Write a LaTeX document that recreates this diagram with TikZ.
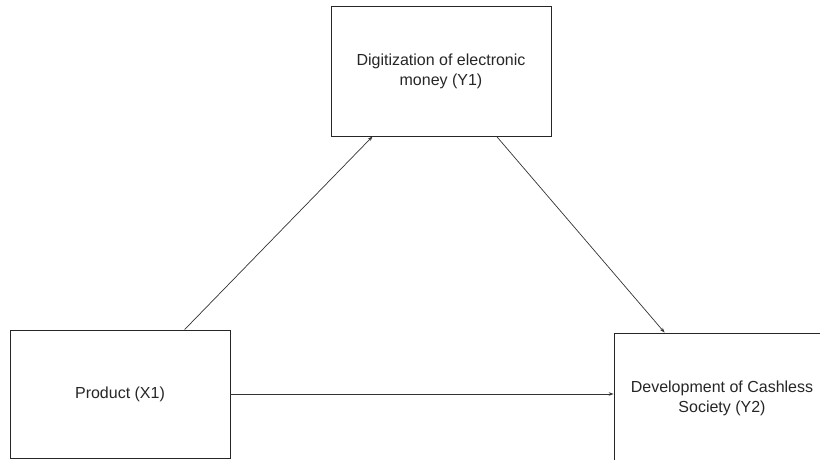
\documentclass[tikz,border=0pt]{standalone}
\usepackage{fontspec}
\setmainfont{Liberation Sans}
\usetikzlibrary{arrows.meta}
\begin{document}
\begin{tikzpicture}[x=1pt,y=1pt,
  box/.style={draw=black!85, line width=0.8pt, inner sep=0pt, align=center, font=\fontsize{16}{20}\selectfont, text=black!85},
  conn/.style={draw=black!80, line width=0.7pt, -{Stealth[length=5pt,width=3.5pt]}}]
\useasboundingbox (0,0) rectangle (820,460);
\node[box, minimum width=220pt, minimum height=130pt] (Y1) at (441,389) {Digitization of electronic\\money (Y1)};
\node[box, minimum width=220pt, minimum height=128pt] (X1) at (120,66) {Product (X1)};
\node[box, minimum width=216pt, minimum height=130pt] (Y2) at (722,62) {Development of Cashless\\Society (Y2)};
\draw[conn] ([xshift=175pt]X1.north west) -- ([xshift=42pt]Y1.south west);
\draw[conn] ([xshift=166pt]Y1.south west) -- ([xshift=51pt]Y2.north west);
\draw[conn] (X1.east) -- (X1.east -| Y2.west);
\end{tikzpicture}
\end{document}
